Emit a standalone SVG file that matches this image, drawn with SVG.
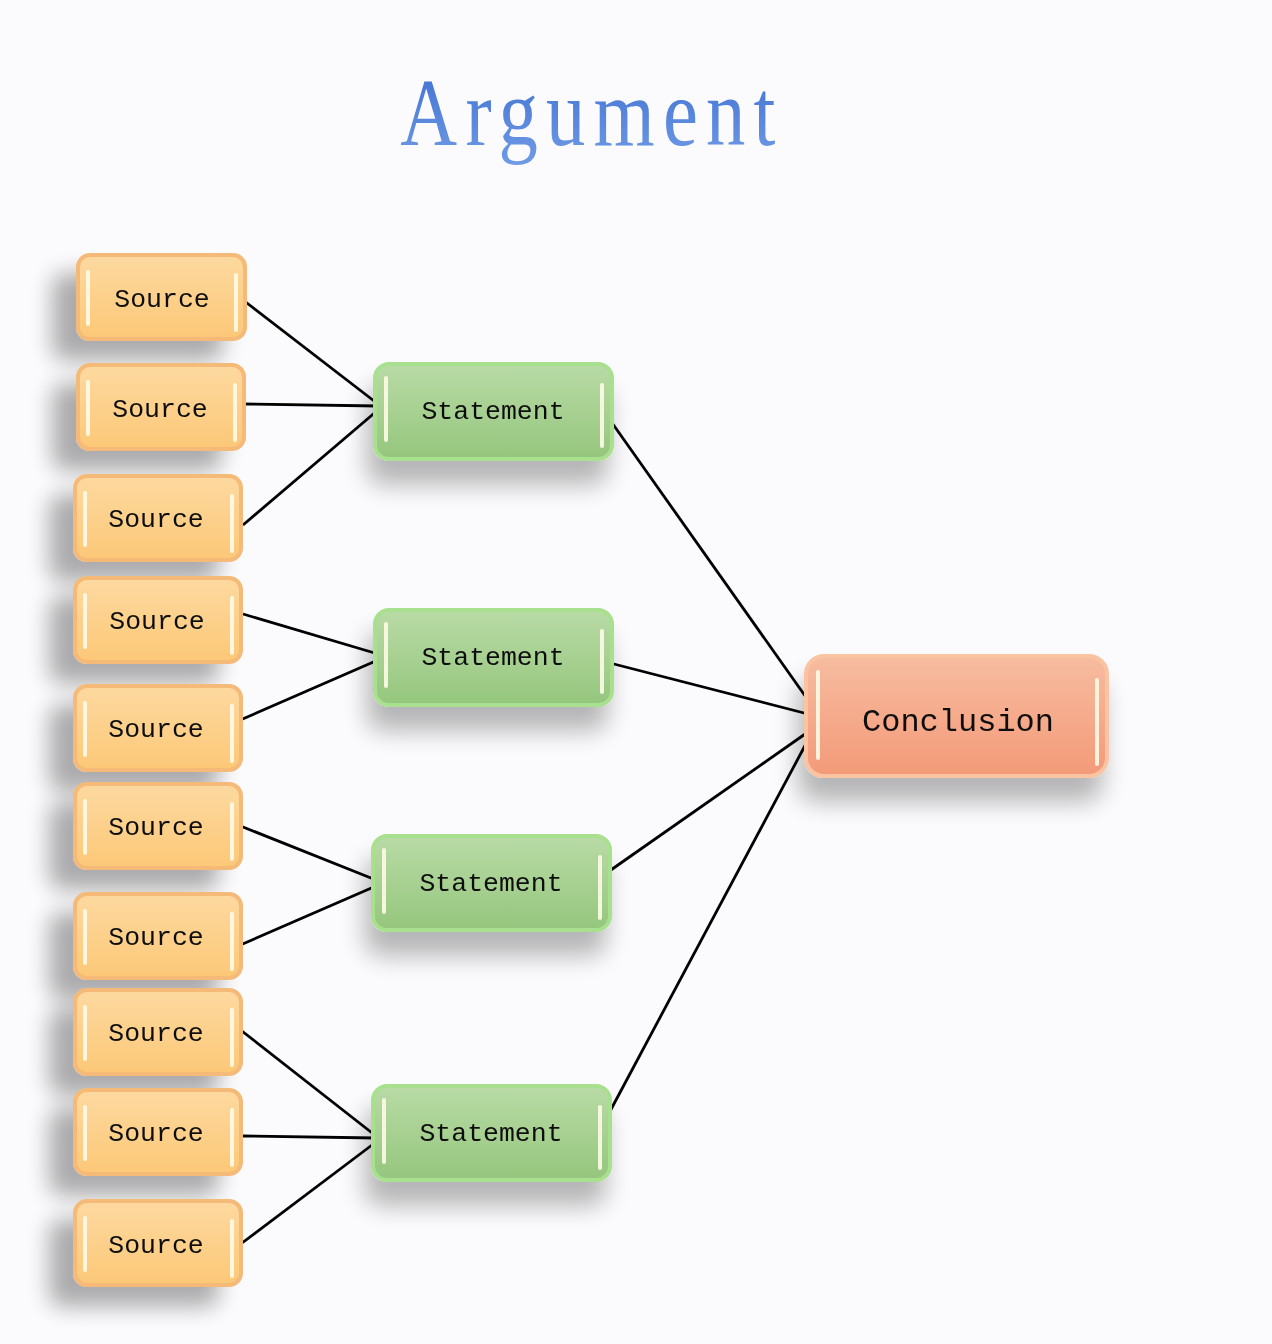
<svg xmlns="http://www.w3.org/2000/svg" width="1272" height="1344" viewBox="0 0 1272 1344">
<defs>
<linearGradient id="gOr" x1="0" y1="0" x2="0" y2="1"><stop offset="0" stop-color="#FDD9A0"/><stop offset="1" stop-color="#FCC877"/></linearGradient>
<linearGradient id="gGr" x1="0" y1="0" x2="0" y2="1"><stop offset="0" stop-color="#B9DBA6"/><stop offset="1" stop-color="#95C67D"/></linearGradient>
<linearGradient id="gCo" x1="0" y1="0" x2="0" y2="1"><stop offset="0" stop-color="#F7BCA0"/><stop offset="1" stop-color="#F39A78"/></linearGradient>
<linearGradient id="gTitle" x1="0" y1="0" x2="0" y2="1"><stop offset="0" stop-color="#3E6FD0"/><stop offset="1" stop-color="#6F9BE6"/></linearGradient>
<filter id="shSrc" x="-50%" y="-40%" width="180%" height="200%"><feGaussianBlur in="SourceAlpha" stdDeviation="11"/><feOffset dx="-24" dy="20"/><feComponentTransfer><feFuncA type="linear" slope="0.32"/></feComponentTransfer><feMerge><feMergeNode/><feMergeNode in="SourceGraphic"/></feMerge></filter>
<filter id="shBox" x="-30%" y="-30%" width="160%" height="190%"><feGaussianBlur in="SourceAlpha" stdDeviation="12"/><feOffset dx="-6" dy="24"/><feComponentTransfer><feFuncA type="linear" slope="0.28"/></feComponentTransfer><feMerge><feMergeNode/><feMergeNode in="SourceGraphic"/></feMerge></filter>
</defs>
<style>
.src{fill:url(#gOr);stroke:#F6BA78;stroke-width:4}
.stm{fill:url(#gGr);stroke:#A9E08F;stroke-width:4}
.con{fill:url(#gCo);stroke:#FAC4A2;stroke-width:4}
.hl{stroke:#FFFBE8;stroke-width:4;stroke-linecap:round;opacity:0.9}
.lbl{font-family:"Liberation Mono","DejaVu Sans Mono",monospace;font-size:26.5px;fill:#111;text-anchor:middle;dominant-baseline:central}
.big{font-size:32px}
.ln{stroke:#000;stroke-width:2.8;fill:none}
</style>
<rect width="1272" height="1344" fill="#FBFBFD"/>
<g transform="translate(592,0) scale(0.82,1)">
<text x="0" y="145" font-family="Liberation Serif, DejaVu Serif, serif" font-size="96" fill="url(#gTitle)" text-anchor="middle" letter-spacing="10">Argument</text>
</g>
<g id="connectors">
<line class="ln" x1="243" y1="300" x2="378" y2="404"/>
<line class="ln" x1="243" y1="404" x2="378" y2="406"/>
<line class="ln" x1="243" y1="525" x2="378" y2="410"/>
<line class="ln" x1="243" y1="614" x2="378" y2="654"/>
<line class="ln" x1="238" y1="721" x2="378" y2="660"/>
<line class="ln" x1="238" y1="825" x2="376" y2="880"/>
<line class="ln" x1="238" y1="946" x2="376" y2="886"/>
<line class="ln" x1="238" y1="1028" x2="376" y2="1136"/>
<line class="ln" x1="243" y1="1136" x2="376" y2="1138"/>
<line class="ln" x1="238" y1="1246" x2="376" y2="1142"/>
<line class="ln" x1="610" y1="420" x2="808" y2="700"/>
<line class="ln" x1="610" y1="663" x2="808" y2="714"/>
<line class="ln" x1="608" y1="872" x2="808" y2="732"/>
<line class="ln" x1="608" y1="1115" x2="808" y2="740"/>
</g>
<g id="source1" filter="url(#shSrc)"><rect class="src" x="78" y="255" width="167" height="84" rx="12"/><line class="hl" x1="88" y1="272" x2="88" y2="324"/><line class="hl" x1="236" y1="275" x2="236" y2="330"/><text class="lbl" x="162" y="300">Source</text></g>
<g id="source2" filter="url(#shSrc)"><rect class="src" x="78" y="365" width="166" height="84" rx="12"/><line class="hl" x1="88" y1="382" x2="88" y2="434"/><line class="hl" x1="235" y1="385" x2="235" y2="440"/><text class="lbl" x="160" y="410">Source</text></g>
<g id="source3" filter="url(#shSrc)"><rect class="src" x="75" y="476" width="166" height="84" rx="12"/><line class="hl" x1="85" y1="493" x2="85" y2="545"/><line class="hl" x1="232" y1="496" x2="232" y2="551"/><text class="lbl" x="156" y="520">Source</text></g>
<g id="source4" filter="url(#shSrc)"><rect class="src" x="75" y="578" width="166" height="84" rx="12"/><line class="hl" x1="85" y1="595" x2="85" y2="647"/><line class="hl" x1="232" y1="598" x2="232" y2="653"/><text class="lbl" x="157" y="622">Source</text></g>
<g id="source5" filter="url(#shSrc)"><rect class="src" x="75" y="686" width="166" height="84" rx="12"/><line class="hl" x1="85" y1="703" x2="85" y2="755"/><line class="hl" x1="232" y1="706" x2="232" y2="761"/><text class="lbl" x="156" y="730">Source</text></g>
<g id="source6" filter="url(#shSrc)"><rect class="src" x="75" y="784" width="166" height="84" rx="12"/><line class="hl" x1="85" y1="801" x2="85" y2="853"/><line class="hl" x1="232" y1="804" x2="232" y2="859"/><text class="lbl" x="156" y="828">Source</text></g>
<g id="source7" filter="url(#shSrc)"><rect class="src" x="75" y="894" width="166" height="84" rx="12"/><line class="hl" x1="85" y1="911" x2="85" y2="963"/><line class="hl" x1="232" y1="914" x2="232" y2="969"/><text class="lbl" x="156" y="938">Source</text></g>
<g id="source8" filter="url(#shSrc)"><rect class="src" x="75" y="990" width="166" height="84" rx="12"/><line class="hl" x1="85" y1="1007" x2="85" y2="1059"/><line class="hl" x1="232" y1="1010" x2="232" y2="1065"/><text class="lbl" x="156" y="1034">Source</text></g>
<g id="source9" filter="url(#shSrc)"><rect class="src" x="75" y="1090" width="166" height="84" rx="12"/><line class="hl" x1="85" y1="1107" x2="85" y2="1159"/><line class="hl" x1="232" y1="1110" x2="232" y2="1165"/><text class="lbl" x="156" y="1134">Source</text></g>
<g id="source10" filter="url(#shSrc)"><rect class="src" x="75" y="1201" width="166" height="84" rx="12"/><line class="hl" x1="85" y1="1218" x2="85" y2="1270"/><line class="hl" x1="232" y1="1221" x2="232" y2="1276"/><text class="lbl" x="156" y="1246">Source</text></g>
<g id="statement1" filter="url(#shBox)"><rect class="stm" x="375" y="364" width="237" height="95" rx="14"/><line class="hl" x1="386" y1="378" x2="386" y2="440"/><line class="hl" x1="602" y1="385" x2="602" y2="446"/><text class="lbl" x="493" y="412">Statement</text></g>
<g id="statement2" filter="url(#shBox)"><rect class="stm" x="375" y="610" width="237" height="95" rx="14"/><line class="hl" x1="386" y1="624" x2="386" y2="686"/><line class="hl" x1="602" y1="631" x2="602" y2="692"/><text class="lbl" x="493" y="658">Statement</text></g>
<g id="statement3" filter="url(#shBox)"><rect class="stm" x="373" y="836" width="237" height="94" rx="14"/><line class="hl" x1="384" y1="850" x2="384" y2="912"/><line class="hl" x1="600" y1="857" x2="600" y2="918"/><text class="lbl" x="491" y="884">Statement</text></g>
<g id="statement4" filter="url(#shBox)"><rect class="stm" x="373" y="1086" width="237" height="94" rx="14"/><line class="hl" x1="384" y1="1100" x2="384" y2="1162"/><line class="hl" x1="600" y1="1107" x2="600" y2="1168"/><text class="lbl" x="491" y="1134">Statement</text></g>
<g id="conclusion" filter="url(#shBox)"><rect class="con" x="806" y="656" width="301" height="120" rx="18"/><line class="hl" x1="818" y1="672" x2="818" y2="758"/><line class="hl" x1="1097" y1="680" x2="1097" y2="764"/><text class="lbl big" x="958" y="722">Conclusion</text></g>
</svg>
